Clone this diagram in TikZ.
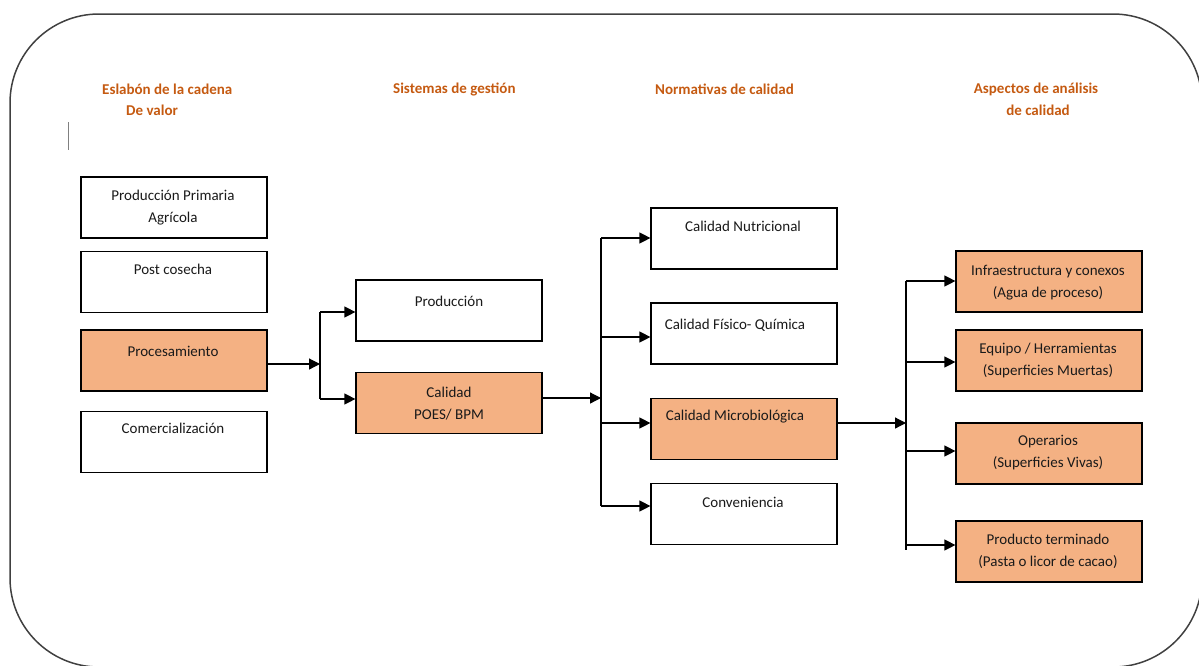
\documentclass[tikz,border=0pt]{standalone}
\usepackage{fontspec}
\setmainfont{Carlito}
\usetikzlibrary{arrows.meta}
\definecolor{boxorange}{HTML}{F4B183}
\definecolor{headorange}{HTML}{C55A11}
\definecolor{framegray}{HTML}{404040}
\definecolor{txtgray}{HTML}{1A1A1A}
\begin{document}
\begin{tikzpicture}[x=1pt,y=-1pt,
  every node/.style={font=\fontsize{15}{22}\selectfont},
  wbox/.style={draw=black, line width=1.2pt, minimum width=186pt, minimum height=61pt, inner sep=0pt, fill=white},
  obox/.style={wbox, fill=boxorange},
  txt/.style={align=center, text=txtgray, inner sep=0pt},
  head/.style={font=\fontsize{15}{22}\selectfont\bfseries, text=headorange, inner sep=0pt, align=center},
  conn/.style={line width=1.2pt, draw=black},
  arr/.style={conn, -{Triangle[length=11pt,width=11pt]}}]
\useasboundingbox (0,0) rectangle (1199,665);
\begin{scope}
\clip (0,0) rectangle (1199,665);
\draw[framegray, line width=1.5pt, rounded corners=89pt] (10,14) rectangle (1202,667);
\end{scope}
\draw[gray, line width=1pt] (68,122) -- (68,150);

% headers
\node[head, anchor=west] (h1a) at (102,89) {Eslabón de la cadena};
\node[head, anchor=west] (h1b) at (126,110) {De valor};
\node[head, anchor=west] (h2) at (393,89) {Sistemas de gestión};
\node[head, anchor=west] (h3) at (655,89) {Normativas de calidad};
\node[head] (h4a) at (1036,89) {Aspectos de análisis};
\node[head] (h4b) at (1038,110) {de calidad};

% column 1
\node[wbox] (pp) at (174,207.5) {};
\node[txt] (ppT) at (173,208) {Producción Primaria\\Agrícola};
\node[wbox] (pc) at (174,282) {};
\node[txt] (pcT) at (173,269) {Post cosecha};
\node[obox] (proc) at (174,360.5) {};
\node[txt] (procT) at (173,351) {Procesamiento};
\node[wbox] (com) at (174,442) {};
\node[txt] (comT) at (173,428) {Comercialización};

% column 2
\node[wbox] (prod) at (449,310.5) {};
\node[txt] (prodT) at (449,301) {Producción};
\node[obox] (cal) at (449,403) {};
\node[txt] (calT) at (449,404) {Calidad\\POES/ BPM};

% column 3
\node[wbox] (nut) at (744,238.5) {};
\node[txt] (nutT) at (743,226) {Calidad Nutricional};
\node[wbox] (fis) at (744,333.5) {};
\node[txt] (fisT) at (735,325) {Calidad Físico- Química};
\node[obox] (mic) at (744,429) {};
\node[txt] (micT) at (735,417) {Calidad Microbiológica};
\node[wbox] (conv) at (744,514) {};
\node[txt] (convT) at (743,502) {Conveniencia};

% column 4
\node[obox] (inf) at (1049,281.5) {};
\node[txt] (infT) at (1048,282.5) {Infraestructura y conexos\\(Agua de proceso)};
\node[obox] (equ) at (1049,360.5) {};
\node[txt] (equT) at (1048,360.5) {Equipo / Herramientas\\(Superficies Muertas)};
\node[obox] (ope) at (1049,453.5) {};
\node[txt] (opeT) at (1048,452.5) {Operarios\\(Superficies Vivas)};
\node[obox] (pter) at (1049,551.5) {};
\node[txt] (pterT) at (1048,551.5) {Producto terminado\\(Pasta o licor de cacao)};

% junction 1
\coordinate (j1) at (320,364);
\coordinate (j1a) at (320,312);
\coordinate (j1b) at (320,399);
\draw[arr] (proc.east |- j1) -- (j1);
\draw[conn] (j1a) -- (j1b);
\draw[arr] (j1a) -- (prod.west |- j1a);
\draw[arr] (j1b) -- (cal.west |- j1b);

% junction 2
\coordinate (j2) at (601,398);
\coordinate (j2a) at (601,238);
\coordinate (j2b) at (601,337);
\coordinate (j2c) at (601,423);
\coordinate (j2d) at (601,506);
\draw[arr] (cal.east |- j2) -- (j2);
\draw[conn] (j2a) -- (j2d);
\draw[arr] (j2a) -- (nut.west |- j2a);
\draw[arr] (j2b) -- (fis.west |- j2b);
\draw[arr] (j2c) -- (mic.west |- j2c);
\draw[arr] (j2d) -- (conv.west |- j2d);

% junction 3
\coordinate (j3) at (906,423);
\coordinate (j3a) at (906,281);
\coordinate (j3b) at (906,362);
\coordinate (j3c) at (906,451);
\coordinate (j3d) at (906,545);
\coordinate (j3e) at (906,550);
\draw[arr] (mic.east |- j3) -- (j3);
\draw[conn] (j3a) -- (j3e);
\draw[arr] (j3a) -- (inf.west |- j3a);
\draw[arr] (j3b) -- (equ.west |- j3b);
\draw[arr] (j3c) -- (ope.west |- j3c);
\draw[arr] (j3d) -- (pter.west |- j3d);
\end{tikzpicture}
\end{document}
